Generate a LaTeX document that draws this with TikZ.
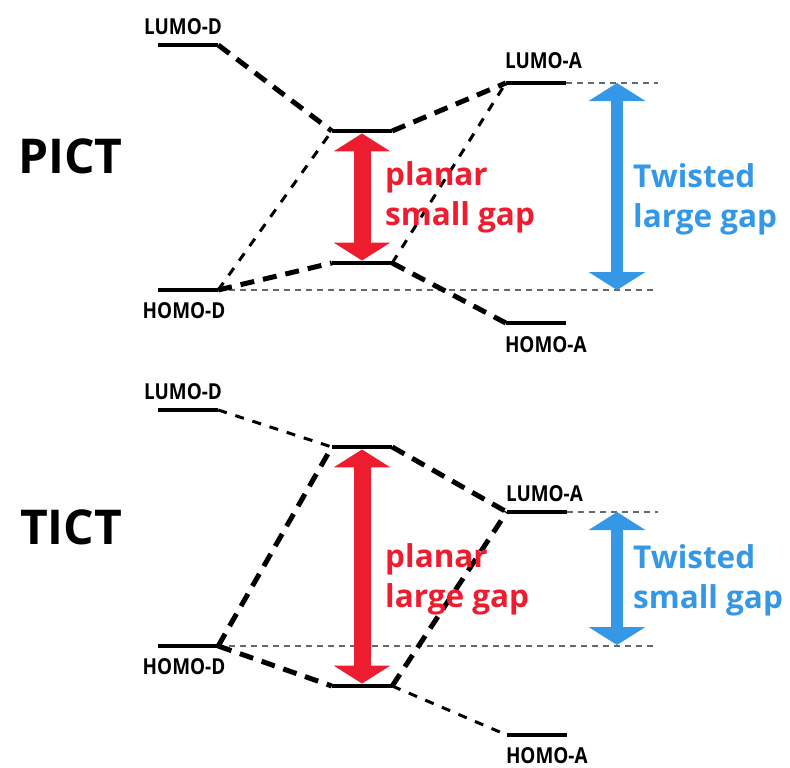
\documentclass[tikz,border=0pt]{standalone}
\usepackage{fontspec}
\setmainfont{Open Sans}
\newfontfamily\narrowfont[FakeStretch=0.86]{Open Sans}
\usetikzlibrary{arrows.meta,positioning}

\definecolor{gapred}{RGB}{237,28,46}
\definecolor{gapblue}{RGB}{52,152,230}
\definecolor{guidegray}{RGB}{95,108,108}

\tikzset{
  level/.style={fill=black,inner sep=0pt,minimum width=60pt,minimum height=4.5pt},
  lvllabel/.style={inner sep=0pt,font=\narrowfont\fontsize{22}{22}\selectfont\bfseries},
  strong/.style={line width=5pt,dash pattern=on 14pt off 9pt},
  weak/.style={line width=3pt,dash pattern=on 9pt off 9pt},
  guide/.style={guidegray,line width=1.5pt,dash pattern=on 6pt off 5pt},
  gaparrow/.style={line width=#1,{Triangle[width=56pt,length=18pt]}-{Triangle[width=56pt,length=18pt]}},
  gaptext/.style={inner sep=0pt,anchor=west,align=left,font=\fontsize{31.5}{40}\selectfont\bfseries},
  panel/.style={inner sep=0pt,anchor=base west,font=\fontsize{48}{48}\selectfont\bfseries}
}

\begin{document}
\begin{tikzpicture}[x=1pt,y=-1pt]
    \useasboundingbox (0,0) rectangle (790,768);

    % planar ICT
    \node[panel] (pict) at (18,173) {PICT};
    \node[level] (ld1) at (188,45) {};
    \node[level] (hd1) at (188,290) {};
    \node[level] (pu1) at (362,131) {};
    \node[level] (pl1) at (362,263) {};
    \node[level] (la1) at (536,83) {};
    \node[level] (ha1) at (536,323) {};
    \node[lvllabel,above=8pt of ld1,xshift=-5pt] (ld1t) {LUMO-D};
    \node[lvllabel,below=10pt of hd1,xshift=-4pt] (hd1t) {HOMO-D};
    \node[lvllabel,above right=12pt and -1pt of la1.north west] (la1t) {LUMO-A};
    \node[lvllabel,below right=11pt and -1pt of ha1.south west] (ha1t) {HOMO-A};
    \coordinate (g1a) at (658,83);
    \coordinate (g1b) at (655,290);
    \draw[guide] (la1.east) -- (g1a);
    \draw[guide] (hd1.east) -- (g1b);
    \draw[strong] (ld1.east) -- (pu1.west);
    \draw[strong] (pu1.east) -- (la1.west);
    \draw[strong] (hd1.east) -- (pl1.west);
    \draw[strong] (pl1.east) -- (ha1.west);
    \draw[weak] (hd1.east) -- (pu1.west);
    \draw[weak] (pl1.east) -- (la1.west);
    \draw[gapred,gaparrow=17pt] (pu1.south) -- (pl1.north);
    \coordinate (b1t) at (617,83);
    \coordinate (b1b) at (617,290);
    \draw[gapblue,gaparrow=12pt] (b1t) -- (b1b);
    \node[gaptext,text=gapred] (p1t) at (385,197) {planar\\small gap};
    \node[gaptext,text=gapblue] (t1t) at (633,199) {Twisted\\large gap};

    % twisted ICT
    \node[panel] (tict) at (20,544) {TICT};
    \node[level] (ld2) at (188,410) {};
    \node[level] (hd2) at (188,646) {};
    \node[level] (pu2) at (362,447) {};
    \node[level] (pl2) at (362,686) {};
    \node[level] (la2) at (537,512) {};
    \node[level] (ha2) at (537,735) {};
    \node[lvllabel,above=8pt of ld2,xshift=-5pt] (ld2t) {LUMO-D};
    \node[lvllabel,below=10pt of hd2,xshift=-4pt] (hd2t) {HOMO-D};
    \node[lvllabel,above right=8pt and -1pt of la2.north west] (la2t) {LUMO-A};
    \node[lvllabel,below right=10pt and -1pt of ha2.south west] (ha2t) {HOMO-A};
    \coordinate (g2a) at (658,512);
    \coordinate (g2b) at (655,646);
    \draw[guide] (la2.east) -- (g2a);
    \draw[guide] (hd2.east) -- (g2b);
    \draw[weak] (ld2.east) -- (pu2.west);
    \draw[strong] (pu2.east) -- (la2.west);
    \draw[strong] (hd2.east) -- (pu2.west);
    \draw[strong] (hd2.east) -- (pl2.west);
    \draw[strong] (pl2.east) -- (la2.west);
    \draw[weak] (pl2.east) -- (ha2.west);
    \draw[gapred,gaparrow=17pt] (pu2.south) -- (pl2.north);
    \coordinate (b2t) at (617,512);
    \coordinate (b2b) at (617,645);
    \draw[gapblue,gaparrow=12pt] (b2t) -- (b2b);
    \node[gaptext,text=gapred] (p2t) at (385,579) {planar\\large gap};
    \node[gaptext,text=gapblue] (t2t) at (633,580) {Twisted\\small gap};
\end{tikzpicture}
\end{document}
